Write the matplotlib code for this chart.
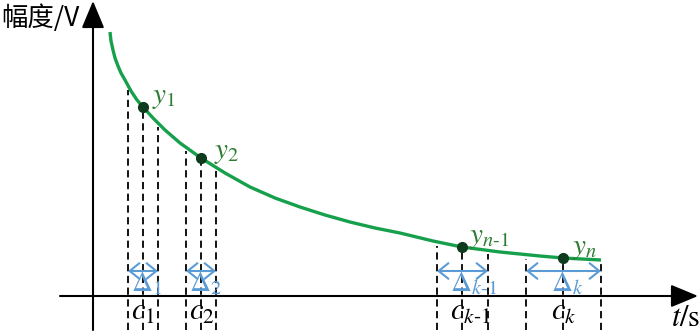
import matplotlib
matplotlib.use('Agg')
import matplotlib.pyplot as plt
import numpy as np
from matplotlib.patches import FancyArrowPatch

plt.rcParams['mathtext.fontset'] = 'stix'

# curve: time t and amplitude A (origin at the axes crossing)
curve_t = [17, 18, 20, 22, 25, 28, 32, 38, 44, 50, 60, 72, 87, 108, 132, 157, 182, 207,
           232, 257, 282, 307, 340, 369, 407, 447, 470, 508]
curve_a = [264, 255, 246, 238, 230, 223, 216, 205, 196, 189, 178, 166, 153, 138, 123, 109, 98, 89,
           81, 74, 68, 63, 55, 49, 44, 40, 38, 36]

# sample points c_i and the interval edges around them
c_t = [50, 108, 369, 470]
c_a = [189, 138, 49, 38]
left_edge = [35, 93, 344, 433]
right_edge = [65, 123, 395, 508]
y_labels = [r'$y_1$', r'$y_2$', r'$y_{n\text{-}1}$', r'$y_n$']
c_labels = [r'$c_1$', r'$c_2$', r'$c_{k\text{-}1}$', r'$c_k$']
d_labels = [r'$\Delta_1$', r'$\Delta_2$', r'$\Delta_{k\text{-}1}$', r'$\Delta_k$']
y_offsets = [(9, 10), (13, 6), (7, 10), (9, 10)]

green = '#17a04c'
dark_green = '#2f7d32'
dot_color = '#0e3a1e'
blue = '#5b9bd5'

fig = plt.figure(figsize=(7, 3.34), dpi=100)
ax = fig.add_axes([0, 0, 1, 1])
ax.set_xlim(-93, 607)
ax.set_ylim(-38, 296)
ax.axis('off')

# axes with arrow heads
ax.add_patch(FancyArrowPatch((-33, 0), (605, 0), arrowstyle='-|>,head_length=1.2,head_width=0.5',
                             mutation_scale=14, color='black', lw=1.5, shrinkA=0, shrinkB=0))
ax.add_patch(FancyArrowPatch((0, -34), (0, 295), arrowstyle='-|>,head_length=1.2,head_width=0.5',
                             mutation_scale=14, color='black', lw=1.5, shrinkA=0, shrinkB=0))

# dashed guide lines
for l, c, r in zip(left_edge, c_t, right_edge):
    for x in (l, c, r):
        top = np.interp(x, curve_t, curve_a) - 4
        ax.plot([x, x], [-34, top], color='black', lw=1.3, ls=(0, (4, 2.5)), zorder=1)

# curve
ax.plot(curve_t, curve_a, color=green, lw=2.4, solid_capstyle='butt', zorder=2)

# sample points and labels
ax.plot(c_t, c_a, 'o', color=dot_color, ms=7, zorder=3)
for x, y, lab, (dx, dy) in zip(c_t, c_a, y_labels, y_offsets):
    ax.text(x + dx, y + dy, lab, color=dark_green, fontsize=21, ha='left', va='center')

# interval arrows and labels
for l, c, r, dl, cl in zip(left_edge, c_t, right_edge, d_labels, c_labels):
    ax.add_patch(FancyArrowPatch((l, 25), (r, 25), arrowstyle='<->,head_length=0.5,head_width=0.4',
                                 mutation_scale=14, color=blue, lw=1.5, shrinkA=0, shrinkB=0))
    ax.text(c - 12, 13, dl, color=blue, fontsize=21, ha='left', va='center')
    ax.text(c - 12, -16, cl, color='black', fontsize=22, ha='left', va='center')

# axis titles
ax.text(-92, 278, '幅度/V', family=['Noto Sans CJK SC', 'DejaVu Sans'], fontsize=19,
        ha='left', va='center')
ax.text(578, -22, r'$t/\mathrm{s}$', fontsize=22, ha='left', va='center')

fig.savefig('out.png', dpi=100)
